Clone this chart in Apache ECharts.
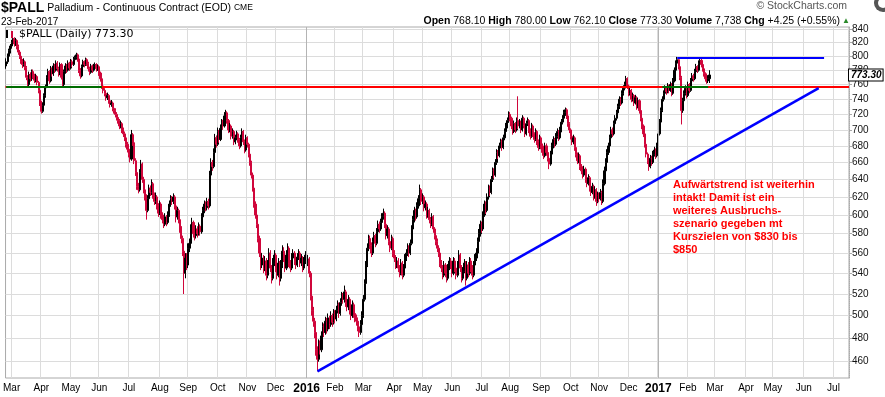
<!DOCTYPE html>
<html>
<head>
<meta charset="utf-8">
<script src="https://cdn.jsdelivr.net/npm/echarts@6.0.0/dist/echarts.min.js"></script>
<style>
  html, body { margin: 0; padding: 0; background: #fff; }
  #chart { width: 885px; height: 397px; }
</style>
</head>
<body>
<div id="chart"></div>
<script>
// trading days (weekdays) from this date on; axis runs into the future
const firstDay = '2015-02-24'
const dayCount = 626

// daily bars: [open, close, low, high]
const bars = [
  [786,792,782,797],[792,800,789,804],[800,808,797,811],[808,815,804,818],[815,820,811,824],
  [820,826,816,829],[826,818,814,828],[818,823,815,827],[823,814,810,825],[814,806,802,817],
  [806,800,796,809],[800,793,789,803],[793,788,783,796],[788,792,785,797],[792,784,780,794],
  [784,770,766,786],[770,760,756,773],[760,774,758,778],[774,768,764,777],[768,778,765,781],
  [778,772,768,781],[772,766,762,775],[766,771,763,775],[771,763,759,773],[763,752,748,765],
  [752,735,731,754],[735,724,721,738],[724,732,722,736],[732,745,730,748],[745,757,742,760],
  [757,770,755,773],[770,778,766,782],[778,765,761,780],[765,782,763,786],[782,775,771,784],
  [775,786,772,790],[786,780,776,789],[780,790,778,794],[790,782,778,793],[782,775,771,785],
  [775,788,773,791],[788,770,767,790],[770,760,756,772],[760,778,758,781],[778,786,775,790],
  [786,780,776,789],[780,790,778,794],[790,783,779,792],[783,792,781,796],[792,788,784,795],
  [788,795,786,799],[795,798,792,801],[798,802,795,805],[802,796,792,804],[796,780,776,798],
  [780,772,768,783],[772,785,770,788],[785,792,782,795],[792,788,784,794],[788,795,786,798],
  [795,790,786,797],[790,782,778,792],[782,777,773,785],[777,786,775,789],[786,780,776,788],
  [780,785,778,789],[785,788,782,791],[788,782,778,790],[782,785,779,788],[785,776,772,787],
  [776,768,764,778],[768,758,754,770],[758,752,748,761],[752,748,744,755],[748,742,738,751],
  [742,745,739,749],[745,738,734,747],[738,733,729,741],[733,735,730,739],[735,728,724,737],
  [728,725,721,731],[725,720,716,728],[720,716,712,723],[716,712,708,719],[712,705,701,714],
  [705,708,702,712],[708,700,696,710],[700,695,691,703],[695,690,686,698],[690,682,678,692],
  [682,676,672,685],[676,670,666,679],[670,664,660,673],[664,694,662,700],[694,684,680,696],
  [684,662,658,686],[662,648,644,665],[648,632,628,651],[632,628,624,636],[628,648,626,652],
  [648,658,645,663],[658,640,636,660],[640,628,624,643],[628,620,616,631],[620,605,595,623],
  [605,618,603,622],[618,630,615,634],[630,625,621,633],[625,635,622,640],[635,622,618,637],
  [622,615,611,625],[615,620,612,625],[620,610,606,622],[610,602,598,613],[602,612,600,616],
  [612,600,596,614],[600,595,591,603],[595,590,586,598],[590,598,588,602],[598,592,588,600],
  [592,600,590,604],[600,612,598,616],[612,618,609,622],[618,615,611,621],[615,620,612,624],
  [620,610,606,622],[610,598,592,612],[598,605,595,609],[605,595,591,607],[595,585,581,597],
  [585,575,570,588],[575,562,557,578],[562,540,520,565],[540,555,535,560],[555,548,543,560],
  [548,565,545,570],[565,570,561,575],[570,585,568,590],[585,592,582,597],[592,580,576,594],
  [580,578,573,583],[578,585,575,589],[585,580,576,588],[580,588,578,592],[588,582,578,590],
  [582,598,580,602],[598,605,595,609],[605,612,602,616],[612,608,604,615],[608,615,605,619],
  [615,610,606,618],[610,645,608,650],[645,660,642,665],[660,655,650,663],[655,672,653,677],
  [672,690,670,695],[690,682,678,693],[682,698,680,703],[698,688,684,700],[688,702,686,707],
  [702,710,698,714],[710,705,700,713],[705,718,703,723],[718,722,714,726],[722,712,708,724],
  [712,700,696,714],[700,705,697,709],[705,692,688,707],[692,698,689,702],[698,685,681,700],
  [685,690,682,694],[690,695,687,699],[695,688,684,697],[688,680,676,690],[680,690,678,694],
  [690,698,687,702],[698,685,681,700],[685,675,671,688],[675,690,673,694],[690,682,678,692],
  [682,670,666,684],[670,660,656,672],[660,645,641,662],[645,630,626,648],[630,612,608,632],
  [612,600,596,615],[600,590,586,603],[590,575,571,592],[575,560,556,578],[560,548,543,563],
  [548,555,545,560],[555,545,540,558],[545,552,542,557],[552,538,533,555],[538,548,535,553],
  [548,560,546,565],[560,545,541,563],[545,535,530,548],[535,550,533,555],[550,558,547,563],
  [558,545,541,560],[545,538,534,548],[538,550,536,555],[550,535,528,552],[535,548,532,553],
  [548,562,545,568],[562,555,551,566],[555,545,541,558],[545,558,543,563],[558,565,555,570],
  [565,550,546,567],[550,545,541,553],[545,555,543,560],[555,560,552,564],[560,552,548,562],
  [552,548,544,555],[548,556,546,560],[556,560,553,564],[560,550,546,562],[550,555,547,559],
  [555,545,541,557],[545,552,543,556],[552,558,549,562],[558,550,546,560],[550,554,547,558],
  [554,540,536,556],[540,518,514,542],[518,505,500,521],[505,495,490,508],[495,485,480,498],
  [485,470,465,488],[470,462,452,473],[462,475,460,479],[475,470,466,478],[470,482,468,486],
  [482,490,479,494],[490,485,481,493],[485,495,483,499],[495,488,484,498],[488,498,486,502],
  [498,492,488,500],[492,500,490,504],[500,494,490,502],[494,502,492,506],[502,497,493,505],
  [497,505,495,509],[505,510,502,514],[510,502,498,512],[502,512,500,516],[512,518,509,522],
  [518,515,511,521],[515,522,512,528],[522,512,508,524],[512,508,504,515],[508,515,505,519],
  [515,505,501,517],[505,500,496,508],[500,510,498,514],[510,502,498,512],[502,498,494,505],
  [498,495,491,501],[495,490,486,498],[490,485,481,493],[485,492,483,496],[492,500,490,504],
  [500,515,498,519],[515,530,513,534],[530,548,528,552],[548,565,546,570],[565,575,562,579],
  [575,568,564,578],[568,560,556,571],[560,572,558,576],[572,578,569,582],[578,570,566,580],
  [570,582,568,586],[582,590,579,594],[590,585,581,593],[585,592,583,596],[592,598,589,602],
  [598,602,595,607],[602,590,586,604],[590,578,574,593],[578,585,575,589],[585,572,568,587],
  [572,565,561,575],[565,575,563,579],[575,560,556,577],[560,555,551,563],[555,548,544,558],
  [548,552,545,556],[552,545,541,555],[545,540,536,548],[540,550,538,554],[550,538,534,552],
  [538,545,536,549],[545,555,543,559],[555,560,552,564],[560,566,557,570],[566,560,556,568],
  [560,570,558,574],[570,585,568,589],[585,595,582,599],[595,605,592,609],[605,598,594,607],
  [598,610,596,614],[610,618,607,622],[618,628,615,634],[628,615,611,630],[615,620,612,624],
  [620,608,604,622],[608,612,605,616],[612,600,596,614],[600,605,597,609],[605,595,591,607],
  [595,590,586,598],[590,598,588,602],[598,585,581,600],[585,578,574,587],[578,572,568,580],
  [572,565,561,575],[565,560,556,568],[560,550,546,563],[550,545,541,553],[545,538,534,548],
  [538,548,536,552],[548,540,536,550],[540,535,531,543],[535,545,533,549],[545,552,543,556],
  [552,548,544,555],[548,540,536,550],[540,552,538,556],[552,545,541,555],[545,538,534,548],
  [538,548,536,552],[548,558,546,563],[558,545,541,560],[545,535,531,548],[535,542,533,546],
  [542,550,540,554],[550,535,528,552],[535,548,533,552],[548,540,536,551],[540,552,538,556],
  [552,545,541,555],[545,538,534,548],[538,548,536,552],[548,555,546,559],[555,560,552,565],
  [560,572,558,576],[572,580,569,585],[580,590,577,594],[590,585,581,593],[585,600,583,604],
  [600,612,598,616],[612,605,601,615],[605,620,603,624],[620,630,617,634],[630,625,621,633],
  [625,640,623,644],[640,650,637,654],[650,645,641,653],[645,660,643,664],[660,672,657,676],
  [672,668,664,675],[668,680,666,684],[680,685,677,689],[685,678,674,688],[678,690,676,694],
  [690,698,687,702],[698,705,695,709],[705,712,702,716],[712,720,709,724],[720,715,711,723],
  [715,705,701,717],[705,698,694,708],[698,708,696,712],[708,700,696,710],[700,712,698,716],
  [712,705,701,744],[705,710,702,714],[710,700,696,712],[700,715,698,719],[715,706,702,717],
  [706,695,691,708],[695,708,693,712],[708,712,705,716],[712,700,696,714],[700,692,688,702],
  [692,705,690,709],[705,695,691,707],[695,688,684,697],[688,698,686,702],[698,685,681,700],
  [685,678,674,688],[678,690,676,694],[690,680,676,692],[680,672,668,683],[672,668,664,675],
  [668,680,666,684],[680,672,668,683],[672,665,661,675],[665,658,652,668],[658,670,656,674],
  [670,680,668,684],[680,688,677,692],[688,682,678,690],[682,692,680,696],[692,698,689,702],
  [698,690,686,700],[690,700,688,704],[700,710,697,714],[710,715,707,719],[715,722,712,726],
  [722,726,718,729],[726,718,714,728],[718,708,704,720],[708,700,696,710],[700,692,688,702],
  [692,685,681,694],[685,690,682,694],[690,678,674,692],[678,670,666,680],[670,662,658,672],
  [662,668,659,672],[668,655,651,670],[655,650,646,658],[650,645,641,653],[645,652,643,656],
  [652,640,636,654],[640,635,631,643],[635,642,633,646],[642,630,626,644],[630,625,621,633],
  [625,632,623,636],[632,620,616,634],[620,628,618,632],[628,615,610,630],[615,622,613,626],
  [622,618,614,625],[618,625,616,629],[625,615,611,627],[615,635,613,640],[635,650,633,655],
  [650,660,647,665],[660,672,657,676],[672,680,669,684],[680,690,677,694],[690,700,687,704],
  [700,695,691,703],[695,708,693,712],[708,715,705,719],[715,722,712,726],[722,730,719,734],
  [730,740,727,744],[740,735,731,743],[735,748,733,752],[748,755,745,759],[755,760,752,764],
  [760,768,757,772],[768,758,754,770],[758,748,744,760],[748,752,745,756],[752,740,736,754],
  [740,745,737,749],[745,735,731,747],[735,742,733,746],[742,730,726,744],[730,738,728,742],
  [738,725,721,740],[725,715,711,727],[715,705,701,717],[705,695,691,707],[695,682,678,697],
  [682,670,666,684],[670,662,658,672],[662,655,650,664],[655,665,653,669],[665,660,656,668],
  [660,670,658,674],[670,675,667,679],[675,668,664,677],[668,680,666,684],[680,695,678,699],
  [695,710,693,714],[710,725,708,729],[725,740,723,744],[740,748,737,752],[748,755,745,759],
  [755,750,746,758],[750,758,748,762],[758,752,748,760],[752,760,750,764],[760,748,744,762],
  [748,765,746,769],[765,780,763,784],[780,790,777,794],[790,795,787,799],[795,785,781,797],
  [785,770,766,787],[770,725,707,772],[725,738,722,742],[738,748,735,752],[748,755,745,759],
  [755,745,741,757],[745,760,743,764],[760,752,748,762],[752,765,750,769],[765,772,762,776],
  [772,768,764,775],[768,778,766,782],[778,785,775,789],[785,780,776,787],[780,790,778,794],
  [790,794,786,797],[794,788,784,796],[788,782,778,790],[782,775,771,784],[775,768,764,777],
  [768,765,761,770],[765,768.1,762,773],[768.1,773.3,762.1,780]
]

const yTicks = [460, 480, 500, 520, 540, 560, 580, 600, 620, 640, 660, 680, 700, 720, 740, 760, 780, 800, 820, 840]
const monthNames = ['Jan', 'Feb', 'Mar', 'Apr', 'May', 'Jun', 'Jul', 'Aug', 'Sep', 'Oct', 'Nov', 'Dec']

// drawn lines: horizontal support, resistance and the rising trend line
const supportLevel = 757
const greenSegments = [[0, 71], [487, 521]]
const resistanceLevel = 798
const resistanceRange = [498, 607]
const trendStart = [231, 452]
const trendEnd = [603, 755]
const lastClose = 773.30

const note = 'Aufwärtstrend ist weiterhin\nintakt! Damit ist ein\nweiteres Ausbruchs-\nszenario gegeben mt\nKurszielen von $830 bis\n$850'

// build the weekday list
const days = []
let d = new Date(firstDay + 'T00:00:00Z')
while (days.length < dayCount) {
  const wd = d.getUTCDay()
  if (wd !== 0 && wd !== 6) days.push(d.toISOString().slice(0, 10))
  d = new Date(d.getTime() + 86400000)
}
const isMonthStart = days.map((v, i) => i > 0 && v.slice(5, 7) !== days[i - 1].slice(5, 7))
const yearStarts = days.map((v, i) => (isMonthStart[i] && v.slice(5, 7) === '01') ? i : -1).filter(i => i >= 0)

const chart = echarts.init(document.getElementById('chart'), null, { renderer: 'canvas' })

const font = 'Liberation Sans, Arial, sans-serif'

const option = {
  animation: false,
  backgroundColor: '#fff',
  grid: { left: 3, right: 36, top: 27, bottom: 19, show: true, borderColor: '#aaa', borderWidth: 1 },
  xAxis: {
    type: 'category',
    data: days,
    boundaryGap: true,
    axisLine: { show: false },
    axisTick: { show: false },
    axisLabel: {
      interval: (i) => isMonthStart[i],
      margin: 5,
      fontSize: 10,
      fontFamily: font,
      color: '#000',
      formatter: (v) => {
        const m = +v.slice(5, 7)
        return m === 1 ? '{y|' + v.slice(0, 4) + '}' : monthNames[m - 1]
      },
      rich: { y: { fontWeight: 'bold', fontSize: 12, fontFamily: font, color: '#000' } }
    },
    splitLine: { show: true, interval: (i) => isMonthStart[i], lineStyle: { color: '#dcdcdc', width: 1 } }
  },
  yAxis: {
    type: 'log',
    position: 'right',
    min: 446.6,
    max: 843.5,
    axisLine: { show: true, lineStyle: { color: '#aaa', type: 'dotted' } },
    axisTick: { show: true, customValues: yTicks, length: 3, lineStyle: { color: '#aaa' } },
    axisLabel: { customValues: yTicks, formatter: (v) => String(v), margin: 3, fontSize: 10, fontFamily: font, color: '#111' },
    splitLine: { show: true, lineStyle: { color: '#dcdcdc', width: 1 } }
  },
  series: [
    {
      type: 'line',
      data: [],
      z: 1,
      silent: true,
      markLine: {
        silent: true,
        symbol: 'none',
        label: { show: false },
        lineStyle: { color: '#b4b4b4', width: 1, type: 'solid' },
        data: yearStarts.map(i => ({ xAxis: i }))
      }
    },
    {
      type: 'candlestick',
      data: bars,
      barWidth: 1.6,
      z: 2,
      itemStyle: { color: '#000', color0: '#d0063b', borderColor: '#000', borderColor0: '#d0063b', borderWidth: 1 },
      markLine: {
        silent: true,
        symbol: 'none',
        label: { show: false },
        data: [
          { yAxis: supportLevel, lineStyle: { color: '#ff0000', width: 2, type: 'solid' } },
          ...greenSegments.map(s => [
            { coord: [s[0], supportLevel], lineStyle: { color: '#006c00', width: 2, type: 'solid' } },
            { coord: [s[1], supportLevel] }
          ]),
          [
            { coord: [resistanceRange[0], resistanceLevel], lineStyle: { color: '#0000ff', width: 2, type: 'solid' } },
            { coord: [resistanceRange[1], resistanceLevel] }
          ],
          [
            { coord: trendStart, lineStyle: { color: '#0000ff', width: 2.5, type: 'solid' } },
            { coord: trendEnd }
          ]
        ]
      }
    },
    {
      // last close marker on the price axis
      type: 'line',
      data: [],
      z: 5,
      silent: true,
      markLine: {
        silent: true,
        symbol: 'none',
        lineStyle: { color: 'rgba(0,0,0,0)', width: 0 },
        data: [{
          yAxis: lastClose,
          label: {
            show: true,
            position: 'end',
            distance: 0,
            formatter: lastClose.toFixed(2),
            backgroundColor: '#fff',
            borderColor: '#000',
            borderWidth: 1,
            padding: [1, 1, 0, 2],
            fontFamily: font,
            fontSize: 10,
            fontWeight: 'bold',
            fontStyle: 'italic',
            color: '#000'
          }
        }]
      }
    }
  ],
  graphic: [
    {
      type: 'text', left: 1, top: 1, z: 100,
      style: {
        text: '{t|$PALL} Palladium - Continuous Contract (EOD) {s|CME}',
        font: '10.5px ' + font, fill: '#000',
        rich: {
          t: { font: 'bold 14px ' + font, fill: '#000' },
          s: { font: '8.5px ' + font, fill: '#000' }
        }
      }
    },
    { type: 'text', left: 1, top: 17, z: 100, style: { text: '23-Feb-2017', font: '10px ' + font, fill: '#000' } },
    { type: 'text', right: 38, top: 1, z: 100, style: { text: '© StockCharts.com', font: '10.5px ' + font, fill: '#555' } },
    { type: 'circle', z: 100, shape: { cx: 883, cy: 3, r: 9 }, style: { fill: '#555' } },
    { type: 'circle', z: 100, shape: { cx: 883, cy: 3, r: 5 }, style: { fill: '#fff' } },
    {
      type: 'text', right: 45, top: 16, z: 100,
      style: {
        text: '{b|Open} 768.10 {b|High} 780.00 {b|Low} 762.10 {b|Close} 773.30 {b|Volume} 7,738 {b|Chg} +4.25 (+0.55%)',
        font: '10.5px ' + font, fill: '#000',
        rich: { b: { font: 'bold 10.5px ' + font, fill: '#000' } }
      }
    },
    { type: 'text', left: 842, top: 17, z: 100, style: { text: '▲', font: '8px ' + font, fill: '#2a8a2a' } },
    { type: 'text', left: 19, top: 29, z: 100, style: { text: '$PALL (Daily) 773.30', font: '11px DejaVu Sans, sans-serif', fill: '#000' } },
    { type: 'rect', z: 100, shape: { x: 6, y: 30, width: 2, height: 8 }, style: { fill: '#000' } },
    { type: 'rect', z: 100, shape: { x: 11, y: 31, width: 2, height: 7 }, style: { fill: '#d0063b' } },
    { type: 'text', left: 673, top: 178, z: 100, style: { text: note, font: 'bold 11px ' + font, fill: '#ff0000', lineHeight: 13 } }
  ]
}

chart.setOption(option)
</script>
</body>
</html>
